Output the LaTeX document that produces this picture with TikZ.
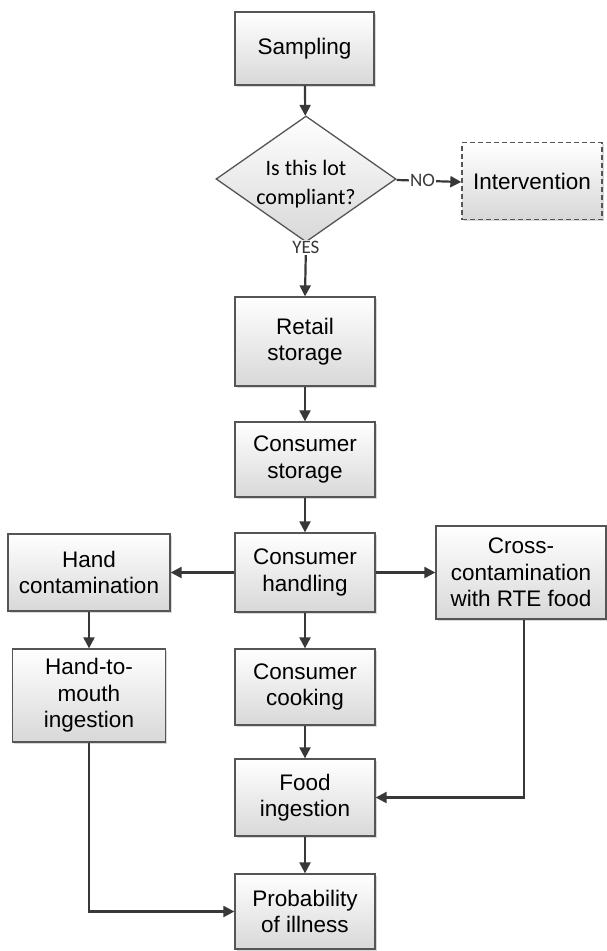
\documentclass[tikz,border=0pt]{standalone}
\usepackage{fontspec}
\setmainfont{Liberation Sans}
\newfontfamily\carlfont{Carlito}
\usetikzlibrary{arrows.meta,shapes.geometric,shadows}
\definecolor{boxline}{HTML}{555555}
\definecolor{arrowcol}{HTML}{383838}
\definecolor{boxbottom}{HTML}{D8D8D8}
\tikzset{
  procbox/.style={rectangle, draw=boxline, line width=1.3pt,
    top color=white, bottom color=boxbottom, align=center, inner sep=0pt,
    font=\fontsize{22.5}{26.5}\selectfont,
    drop shadow={shadow xshift=1.5pt, shadow yshift=-1.5pt, fill=black, opacity=0.15}},
  decbox/.style={diamond, draw=boxline, line width=1.3pt,
    top color=white, bottom color=boxbottom, inner sep=0pt},
  dectextstyle/.style={align=center, inner sep=0pt, font=\carlfont\fontsize{22}{28.6}\selectfont},
  flow/.style={draw=arrowcol, line width=2.2pt, -{Triangle[length=11pt,width=11pt]}},
  lbl/.style={font=\carlfont\fontsize{19}{21}\selectfont, fill=white, inner sep=1pt, text=arrowcol}
}
\begin{document}
\begin{tikzpicture}[x=1pt,y=-1pt]
\useasboundingbox (0,0) rectangle (607,951);
\node[procbox, minimum width=139pt, minimum height=73pt] (samp) at (304.5,48.5) {Sampling};
\node[decbox, minimum width=180pt, minimum height=126pt] (dec) at (306,179) {};
\node[dectextstyle, anchor=base] (dectext) at (306,204.3) {Is this lot\\compliant?};
\node[procbox, dashed, dash pattern=on 5pt off 3pt, minimum width=140pt, minimum height=77pt] (interv) at (532,181) {Intervention};
\node[procbox, minimum width=140pt, minimum height=89pt] (retail) at (305,341.5) {Retail\\storage};
\node[procbox, minimum width=140pt, minimum height=75pt] (cstor) at (305,459.5) {Consumer\\storage};
\node[procbox, minimum width=140pt, minimum height=79pt] (chand) at (305,572.5) {Consumer\\handling};
\node[procbox, minimum width=162pt, minimum height=77pt] (handc) at (89,572.5) {Hand\\contamination};
\node[procbox, minimum width=170pt, minimum height=93pt] (cross) at (521,572.5) {Cross-\\contamination\\with RTE food};
\node[procbox, minimum width=153pt, minimum height=93pt] (h2m) at (89,695.5) {Hand-to-\\mouth\\ingestion};
\node[procbox, minimum width=140pt, minimum height=76pt] (cook) at (305,687) {Consumer\\cooking};
\node[procbox, minimum width=140pt, minimum height=77pt] (food) at (305,797.5) {Food\\ingestion};
\node[procbox, minimum width=140pt, minimum height=75pt] (prob) at (305,911.5) {Probability\\of illness};
\draw[flow] (samp) -- (dec);
\draw[flow] ([yshift=-1pt]dec.east) -- node[lbl, pos=0.40] {NO} ([yshift=-1pt]interv.west);
\draw[flow] (dec.south) -- node[lbl, pos=0.09] {YES} (retail.north);
\draw[flow] (retail) -- (cstor);
\draw[flow] (cstor) -- (chand);
\draw[flow] (chand) -- (handc);
\draw[flow] (chand) -- (cross);
\draw[flow] (chand) -- (cook);
\draw[flow] (handc) -- (h2m);
\draw[flow] (cook) -- (food);
\draw[flow] (food) -- (prob);
\coordinate (crossout) at ([xshift=3pt]cross.south);
\draw[flow] (crossout) |- (food.east);
\draw[flow] (h2m.south) |- (prob.west);
\end{tikzpicture}
\end{document}
